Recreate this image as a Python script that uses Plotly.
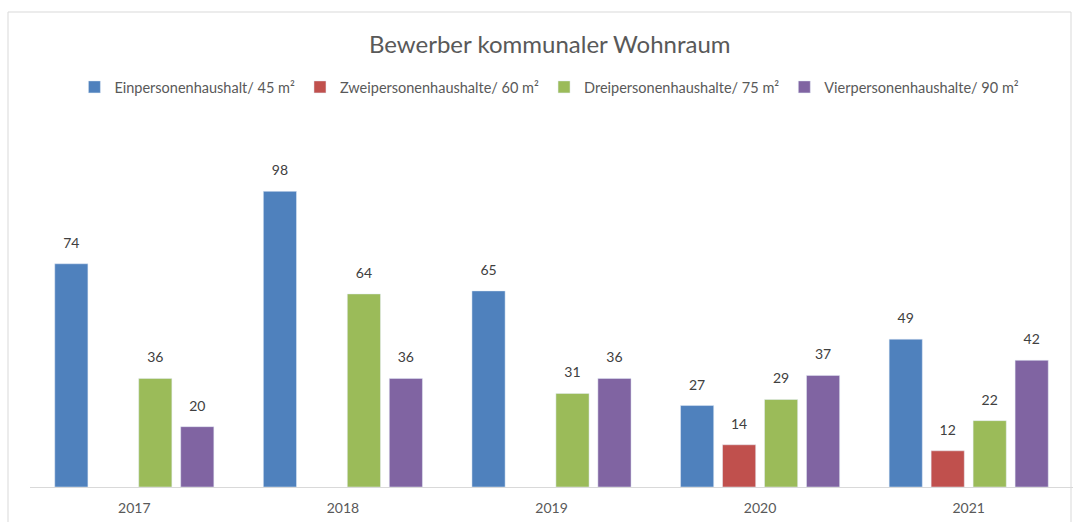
import plotly.graph_objects as go

years = ["2017", "2018", "2019", "2020", "2021"]
series_names = [
    "Einpersonenhaushalt/ 45 m²",
    "Zweipersonenhaushalte/ 60 m²",
    "Dreipersonenhaushalte/ 75 m²",
    "Vierpersonenhaushalte/ 90 m²",
]
ein = [74, 98, 65, 27, 49]
zwei = [None, None, None, 14, 12]
drei = [36, 64, 31, 29, 22]
vier = [20, 36, 36, 37, 42]
colors = ["#4F81BD", "#C0504D", "#9BBB59", "#8064A2"]

FONT = "Lato"
fig = go.Figure()
for name, vals, col in zip(series_names, [ein, zwei, drei, vier], colors):
    fig.add_trace(go.Bar(
        x=years, y=vals, name=name, marker_color=col,
        text=[("" if v is None else str(v)) for v in vals],
        texttemplate="<span style='font-size:14px'>%{text}</span><br> ",
        textposition="outside", cliponaxis=False,
        textfont=dict(family=FONT, size=8.5, color="#404040"),
    ))

fig.update_layout(
    width=1078, height=522,
    margin=dict(l=30, r=5, t=125, b=35),
    paper_bgcolor="white", plot_bgcolor="white",
    barmode="group", bargap=0.195, bargroupgap=0.21,
    title=dict(text="Bewerber kommunaler Wohnraum", x=0.51, xanchor="center",
               y=0.915, yanchor="middle",
               font=dict(family=FONT, size=24, color="#595959")),
    legend=dict(orientation="h", x=0.498, xanchor="center", y=1.105, yanchor="middle",
                font=dict(family=FONT, size=14.5, color="#595959"),
                itemwidth=30, tracegroupgap=0),
    xaxis=dict(showline=True, linecolor="#D9D9D9", linewidth=1, ticks="",
               ticklabelstandoff=8,
               tickfont=dict(family=FONT, size=14, color="#595959"),
               showgrid=False),
    yaxis=dict(range=[0, 120], visible=False, showgrid=False),
    shapes=[dict(type="rect", xref="paper", yref="paper",
                 x0=(8 - 30) / 1043, x1=(1071 - 30) / 1043,
                 y0=-0.3, y1=(487 - 12) / 362,
                 line=dict(color="#D9D9D9", width=1), fillcolor="rgba(0,0,0,0)",
                 layer="below")],
)

fig.write_html("out.html", config={"displayModeBar": False},
               post_script="document.body.style.margin='0';")
